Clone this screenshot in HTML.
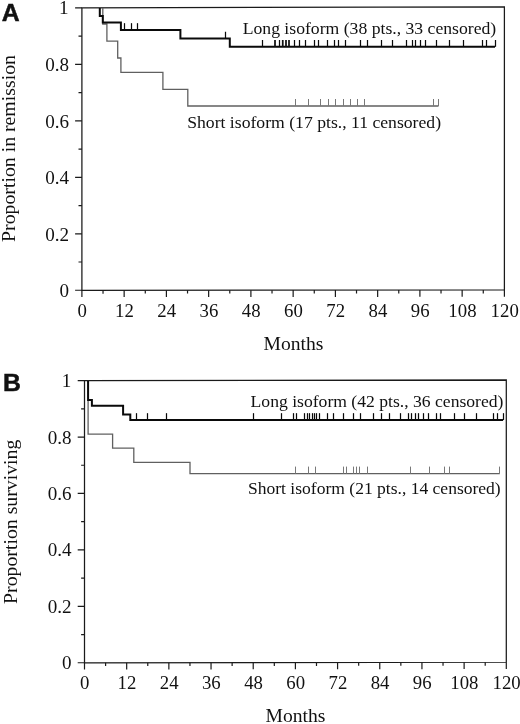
<!DOCTYPE html>
<html><head><meta charset="utf-8"><title>Figure</title>
<style>
html,body{margin:0;padding:0;background:#fff;}
body{width:520px;height:724px;overflow:hidden;}
svg{display:block;}
text{font-family:"Liberation Serif",serif;fill:#111;}
</style></head><body>
<svg width="520" height="724" viewBox="0 0 520 724">
<rect width="520" height="724" fill="#fff"/>
<path d="M81.9 7.9L504.4 6.9L504.4 290L81.9 290.25Z" fill="none" stroke="#1a1a1a" stroke-width="1.25"/>
<path d="M75.1 290.25H81.9M78.5 262.01H81.9M75.1 233.78H81.9M78.5 205.54H81.9M75.1 177.31H81.9M78.5 149.07H81.9M75.1 120.84H81.9M78.5 92.6H81.9M75.1 64.37H81.9M78.5 36.13H81.9M75.1 7.9H81.9M81.9 290.25V297.05M103.03 290.24V293.64M124.15 290.23V297.03M145.28 290.21V293.61M166.4 290.2V297M187.53 290.19V293.59M208.65 290.18V296.98M229.78 290.16V293.56M250.9 290.15V296.95M272.02 290.14V293.54M293.15 290.12V296.93M314.27 290.11V293.51M335.4 290.1V296.9M356.52 290.09V293.49M377.65 290.07V296.88M398.77 290.06V293.46M419.9 290.05V296.85M441.02 290.04V293.44M462.15 290.02V296.82M483.27 290.01V293.41M504.4 290V296.8" stroke="#1a1a1a" stroke-width="1.2" fill="none"/>
<g font-size="19.1" text-anchor="end">
<text x="69" y="297.25">0</text>
<text x="69" y="240.78">0.2</text>
<text x="69" y="184.31">0.4</text>
<text x="69" y="127.84">0.6</text>
<text x="69" y="71.37">0.8</text>
<text x="68.6" y="14.4">1</text>
</g>
<g font-size="18.8" text-anchor="middle">
<text x="82.2" y="317.05">0</text>
<text x="124.45" y="317.05">12</text>
<text x="166.7" y="317.05">24</text>
<text x="208.95" y="317.05">36</text>
<text x="251.2" y="317.05">48</text>
<text x="293.45" y="317.05">60</text>
<text x="335.7" y="317.05">72</text>
<text x="377.95" y="317.05">84</text>
<text x="420.2" y="317.05">96</text>
<text x="462.45" y="317.05">108</text>
<text x="504.7" y="317.05">120</text>
</g>
<text font-size="19.8" text-anchor="middle" transform="translate(15 148.5) rotate(-90)">Proportion in remission</text>
<text font-size="19.6" text-anchor="middle" x="293.4" y="349.8">Months</text>
<text style="font-family:'Liberation Sans',sans-serif;font-weight:bold;stroke:#111;stroke-width:0.5px;stroke-linejoin:miter" font-size="24.8" x="1.7" y="20.5">A</text>
<path d="M102.8 7.9 L102.8 24 L106.9 24 L106.9 41.2 L117.7 41.2 L117.7 58 L120.9 58 L120.9 72.3 L162.9 72.3 L162.9 89.4 L187.8 89.4 L187.8 106 L438.5 106" fill="none" stroke="#606060" stroke-width="1.3" stroke-linejoin="miter"/>
<path d="M295.5 106v-7M308.5 106v-7M320.5 106v-7M328.5 106v-7M335.5 106v-7M343.5 106v-7M350.5 106v-7M357.5 106v-7M364.5 106v-7M433.5 106v-7M438.5 106v-7" fill="none" stroke="#787878" stroke-width="1"/>
<path d="M99.8 7.9 L99.8 16 L102.8 16 L102.8 22.6 L120.9 22.6 L120.9 30 L180.4 30 L180.4 38.6 L229.8 38.6 L229.8 46.8 L495 46.8" fill="none" stroke="#0a0a0a" stroke-width="2" stroke-linejoin="miter"/>
<path d="M124.5 30v-6.8M131.5 30v-6.8M137.5 30v-6.8M225.5 38.6v-6.8M262.5 46.8v-6.8M279.5 46.8v-6.8M294.5 46.8v-6.8M299.5 46.8v-6.8M305.5 46.8v-6.8M314.5 46.8v-6.8M318.5 46.8v-6.8M327.5 46.8v-6.8M334.5 46.8v-6.8M338.5 46.8v-6.8M345.5 46.8v-6.8M360.5 46.8v-6.8M367.5 46.8v-6.8M381.5 46.8v-6.8M392.5 46.8v-6.8M406.5 46.8v-6.8M412.5 46.8v-6.8M415.5 46.8v-6.8M420.5 46.8v-6.8M425.5 46.8v-6.8M436.5 46.8v-6.8M449.5 46.8v-6.8M463.5 46.8v-6.8M482.5 46.8v-6.8M486.5 46.8v-6.8M495.5 46.8v-6.8" fill="none" stroke="#0c0c0c" stroke-width="1"/>
<path d="M124.5 30v-6.8M131.5 30v-6.8M137.5 30v-6.8M225.5 38.6v-6.8M262.5 46.8v-6.8M279.5 46.8v-6.8M294.5 46.8v-6.8M299.5 46.8v-6.8M305.5 46.8v-6.8M314.5 46.8v-6.8M318.5 46.8v-6.8M327.5 46.8v-6.8M334.5 46.8v-6.8M338.5 46.8v-6.8M345.5 46.8v-6.8M360.5 46.8v-6.8M367.5 46.8v-6.8M381.5 46.8v-6.8M392.5 46.8v-6.8M406.5 46.8v-6.8M412.5 46.8v-6.8M415.5 46.8v-6.8M420.5 46.8v-6.8M425.5 46.8v-6.8M436.5 46.8v-6.8M449.5 46.8v-6.8M463.5 46.8v-6.8M482.5 46.8v-6.8M486.5 46.8v-6.8M495.5 46.8v-6.8" fill="none" stroke="#000" stroke-width="2" opacity="0.22"/>
<path d="M275 46.8v-6.8M282.75 46.8v-6.8M286 46.8v-6.8M289 46.8v-6.8" fill="none" stroke="#111" stroke-width="1.75"/>
<text font-size="17.66" x="242.7" y="34.2">Long isoform (38 pts., 33 censored)</text>
<text font-size="17.66" x="187.2" y="127.5">Short isoform (17 pts., 11 censored)</text>
<path d="M84.5 380.6L506.3 380L506.3 662.25L84.5 662.75Z" fill="none" stroke="#1a1a1a" stroke-width="1.25"/>
<path d="M77.7 662.75H84.5M81.1 634.53H84.5M77.7 606.32H84.5M81.1 578.11H84.5M77.7 549.89H84.5M81.1 521.67H84.5M77.7 493.46H84.5M81.1 465.25H84.5M77.7 437.03H84.5M81.1 408.81H84.5M77.7 380.6H84.5M84.5 662.75V669.55M105.59 662.73V666.12M126.68 662.7V669.5M147.77 662.67V666.07M168.86 662.65V669.45M189.95 662.62V666.02M211.04 662.6V669.4M232.13 662.58V665.98M253.22 662.55V669.35M274.31 662.52V665.92M295.4 662.5V669.3M316.49 662.48V665.88M337.58 662.45V669.25M358.67 662.42V665.82M379.76 662.4V669.2M400.85 662.38V665.77M421.94 662.35V669.15M443.03 662.33V665.73M464.12 662.3V669.1M485.21 662.27V665.67M506.3 662.25V669.05" stroke="#1a1a1a" stroke-width="1.2" fill="none"/>
<g font-size="19.1" text-anchor="end">
<text x="71.6" y="669.35">0</text>
<text x="71.6" y="612.92">0.2</text>
<text x="71.6" y="556.49">0.4</text>
<text x="71.6" y="500.06">0.6</text>
<text x="71.6" y="443.63">0.8</text>
<text x="71.2" y="387.2">1</text>
</g>
<g font-size="18.8" text-anchor="middle">
<text x="84.8" y="689.15">0</text>
<text x="126.98" y="689.15">12</text>
<text x="169.16" y="689.15">24</text>
<text x="211.34" y="689.15">36</text>
<text x="253.52" y="689.15">48</text>
<text x="295.7" y="689.15">60</text>
<text x="337.88" y="689.15">72</text>
<text x="380.06" y="689.15">84</text>
<text x="422.24" y="689.15">96</text>
<text x="464.42" y="689.15">108</text>
<text x="506.6" y="689.15">120</text>
</g>
<text font-size="19.8" text-anchor="middle" transform="translate(17.4 521.8) rotate(-90)">Proportion surviving</text>
<text font-size="19.6" text-anchor="middle" x="295.4" y="722.4">Months</text>
<text style="font-family:'Liberation Sans',sans-serif;font-weight:bold;stroke:#111;stroke-width:0.5px;stroke-linejoin:miter" font-size="24.8" x="2.9" y="391.1">B</text>
<path d="M88.1 380.6 L88.1 434.2 L112.6 434.2 L112.6 448.2 L133.8 448.2 L133.8 462.4 L190 462.4 L190 473.6 L499.8 473.6" fill="none" stroke="#606060" stroke-width="1.3" stroke-linejoin="miter"/>
<path d="M295.5 473.6v-7M308.5 473.6v-7M315.5 473.6v-7M343.5 473.6v-7M346.5 473.6v-7M353.5 473.6v-7M356.5 473.6v-7M359.5 473.6v-7M367.5 473.6v-7M410.5 473.6v-7M429.5 473.6v-7M444.5 473.6v-7M449.5 473.6v-7M499.5 473.6v-7" fill="none" stroke="#787878" stroke-width="1"/>
<path d="M88.1 380.6 L88.1 400 L91.9 400 L91.9 405.8 L123.1 405.8 L123.1 414.4 L130.3 414.4 L130.3 420 L503.1 420" fill="none" stroke="#0a0a0a" stroke-width="2" stroke-linejoin="miter"/>
<path d="M136.5 420v-6.8M147.5 420v-6.8M166.5 420v-6.8M253.5 420v-6.8M281.5 420v-6.8M293.5 420v-6.8M296.5 420v-6.8M304.5 420v-6.8M307.5 420v-6.8M309.5 420v-6.8M312.5 420v-6.8M314.5 420v-6.8M316.5 420v-6.8M319.5 420v-6.8M327.5 420v-6.8M333.5 420v-6.8M343.5 420v-6.8M353.5 420v-6.8M360.5 420v-6.8M373.5 420v-6.8M381.5 420v-6.8M389.5 420v-6.8M400.5 420v-6.8M408.5 420v-6.8M411.5 420v-6.8M415.5 420v-6.8M418.5 420v-6.8M423.5 420v-6.8M428.5 420v-6.8M436.5 420v-6.8M440.5 420v-6.8M454.5 420v-6.8M464.5 420v-6.8M476.5 420v-6.8M493.5 420v-6.8M497.5 420v-6.8M503.5 420v-6.8" fill="none" stroke="#0c0c0c" stroke-width="1"/>
<path d="M136.5 420v-6.8M147.5 420v-6.8M166.5 420v-6.8M253.5 420v-6.8M281.5 420v-6.8M293.5 420v-6.8M296.5 420v-6.8M304.5 420v-6.8M307.5 420v-6.8M309.5 420v-6.8M312.5 420v-6.8M314.5 420v-6.8M316.5 420v-6.8M319.5 420v-6.8M327.5 420v-6.8M333.5 420v-6.8M343.5 420v-6.8M353.5 420v-6.8M360.5 420v-6.8M373.5 420v-6.8M381.5 420v-6.8M389.5 420v-6.8M400.5 420v-6.8M408.5 420v-6.8M411.5 420v-6.8M415.5 420v-6.8M418.5 420v-6.8M423.5 420v-6.8M428.5 420v-6.8M436.5 420v-6.8M440.5 420v-6.8M454.5 420v-6.8M464.5 420v-6.8M476.5 420v-6.8M493.5 420v-6.8M497.5 420v-6.8M503.5 420v-6.8" fill="none" stroke="#000" stroke-width="2" opacity="0.22"/>
<text font-size="17.61" x="250.6" y="406.8">Long isoform (42 pts., 36 censored)</text>
<text font-size="17.55" x="248" y="493.7">Short isoform (21 pts., 14 censored)</text>
</svg>
</body></html>
